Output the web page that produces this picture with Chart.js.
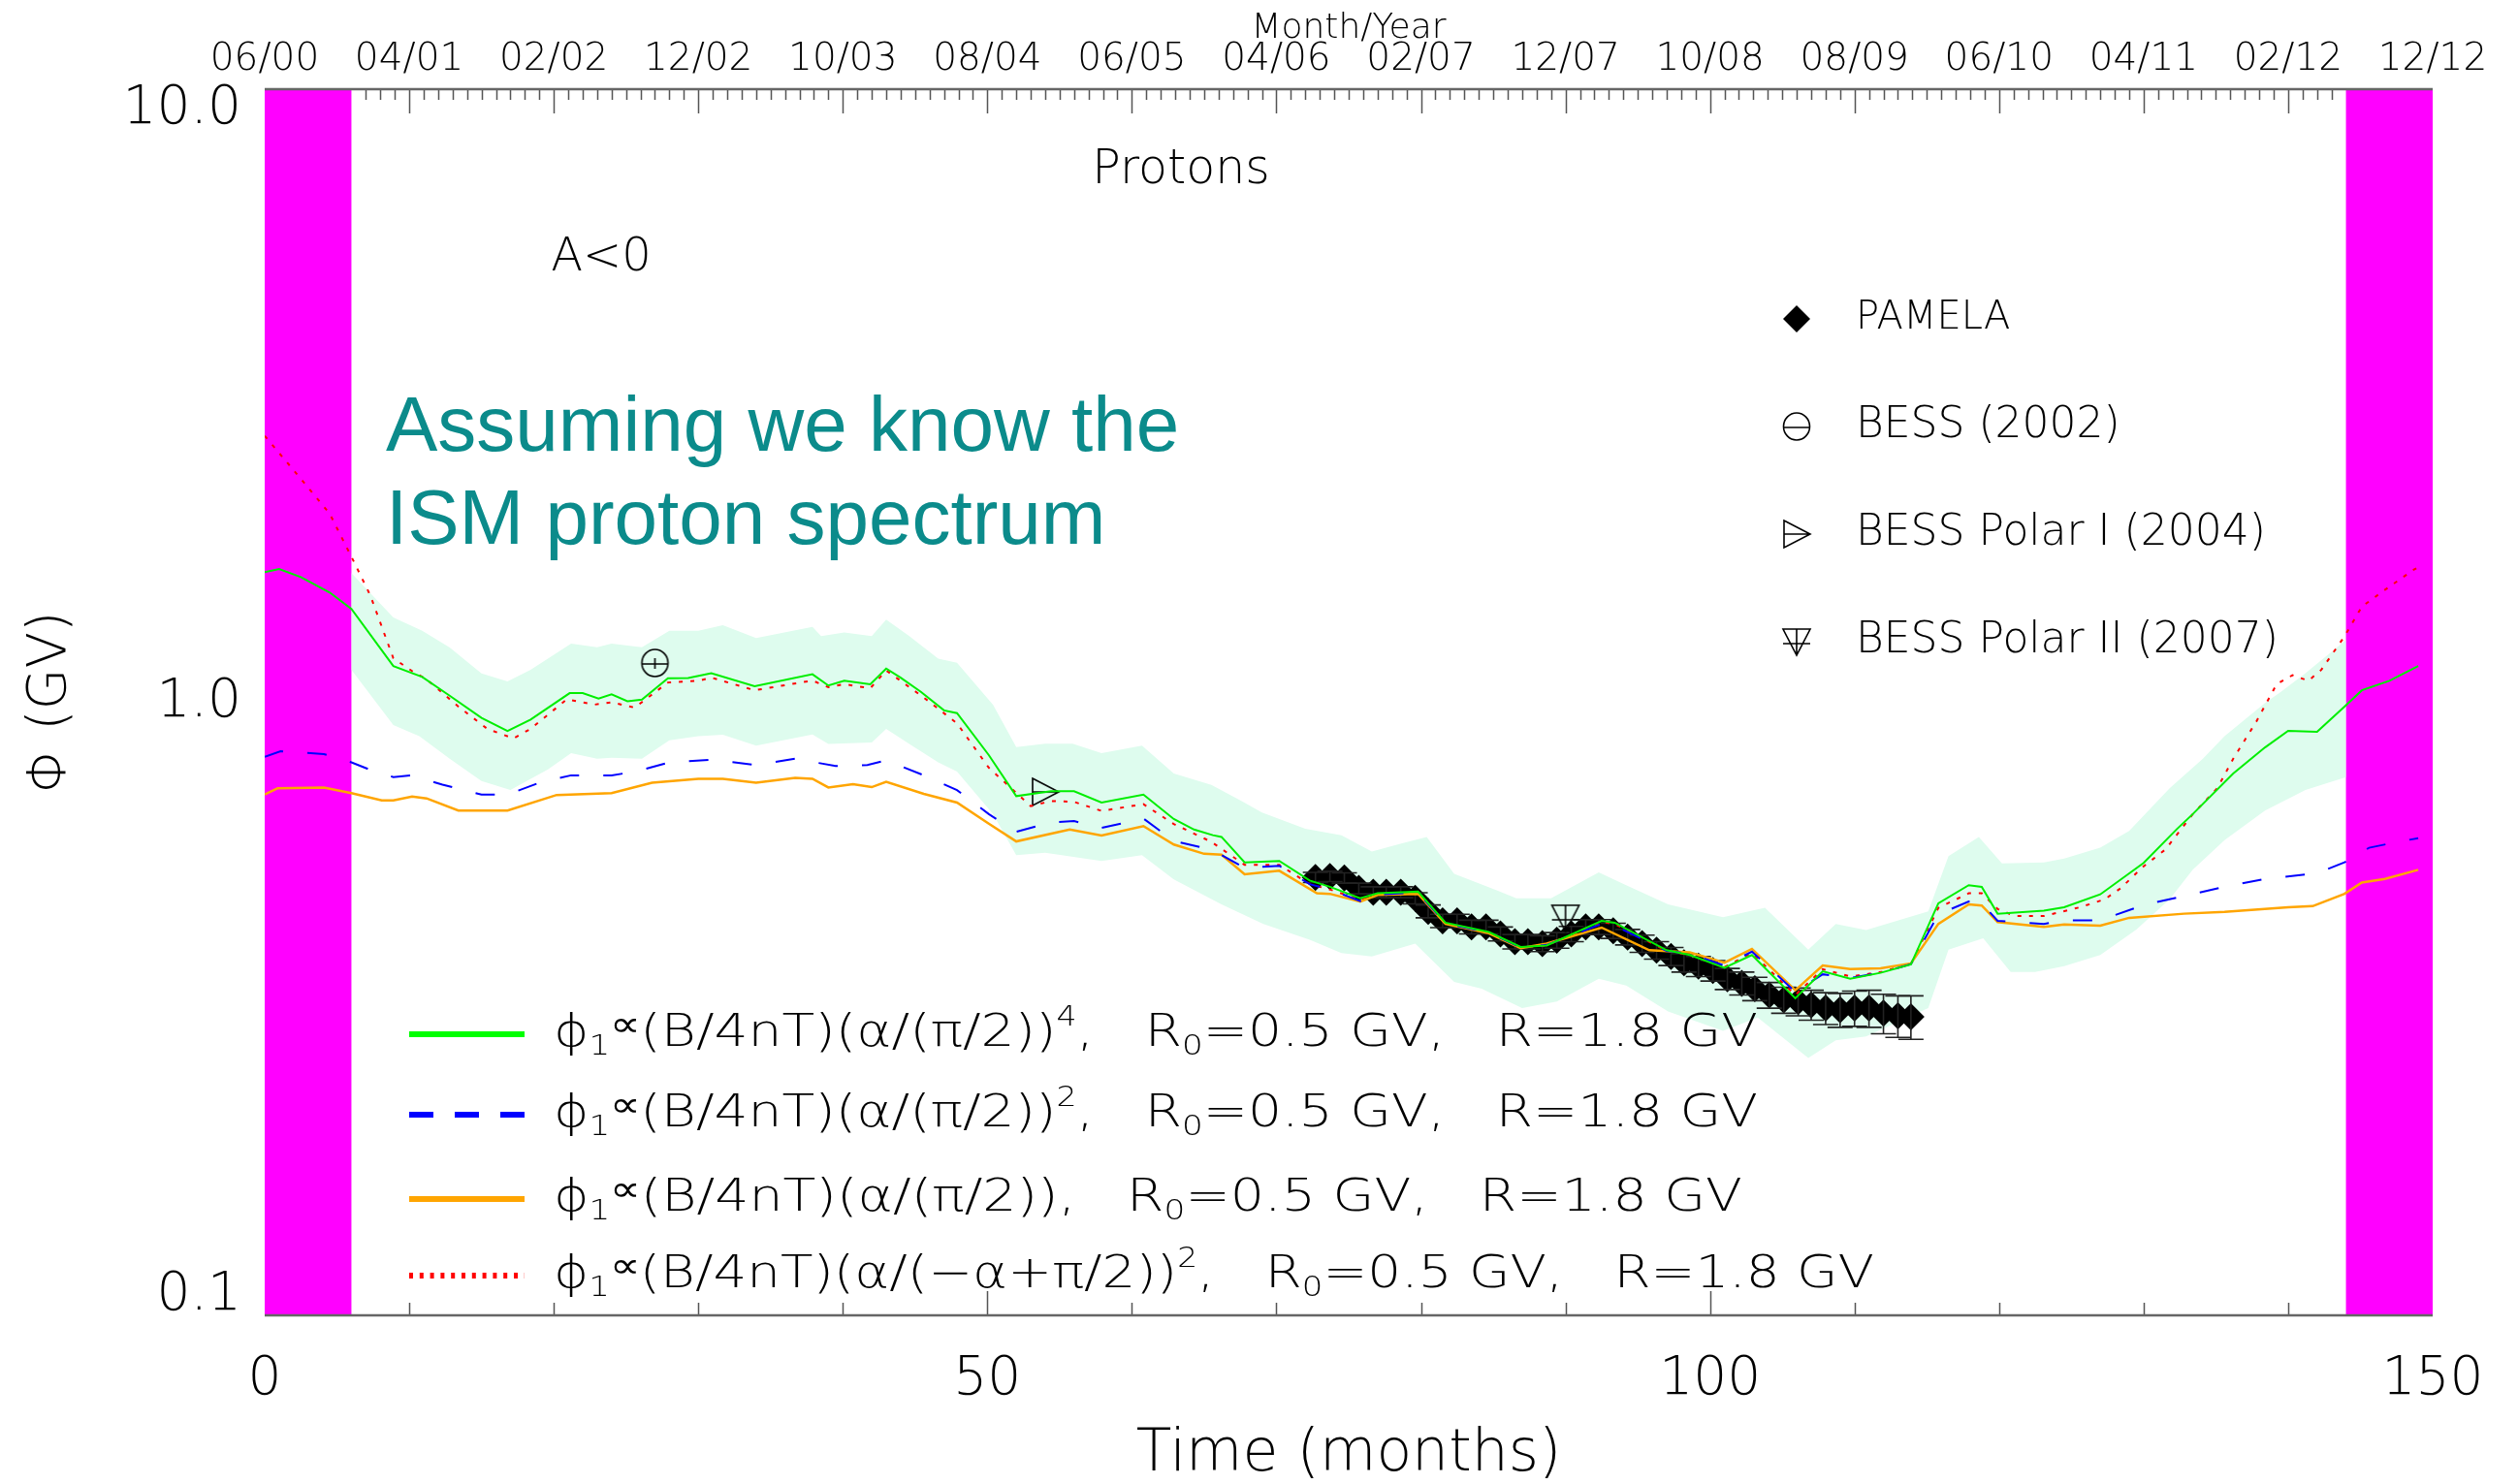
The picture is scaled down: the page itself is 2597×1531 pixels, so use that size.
<!DOCTYPE html>
<html><head><meta charset="utf-8">
<script src="https://cdn.jsdelivr.net/npm/chart.js@4.4.1/dist/chart.umd.min.js"></script>
<style>html,body{margin:0;padding:0;background:#fff;overflow:hidden}#wrap{width:2597px;height:1531px}</style>
</head><body><div id="wrap"><canvas id="c" width="2597" height="1531"></canvas></div>
<script>
// ---------------- DATA ----------------
const topLabels = ['06/00','04/01','02/02','12/02','10/03','08/04','06/05','04/06','02/07','12/07','10/08','08/09','06/10','04/11','02/12','12/12'];
const yTickValues = [0.1, 1, 10];
const magentaRanges = [[0, 6], [144, 150]];

const greenM = [0,1,2.5,4.5,6,8.9,10.9,12.8,15,16.8,18.4,21.1,22,23.1,24,25.1,26.1,27.9,29.3,30.9,33.9,37.9,39,40.1,41.9,43,44,45.4,47,47.9,50.1,52,54.4,56,57.9,60.8,62.9,64.3,65.6,66.2,67.8,70.2,72.3,73.7,75.8,77,79.8,81.7,84.7,86.9,88.7,92.5,93.4,97,98.6,101,102.9,105.9,107.8,109.7,111.8,113.9,115.8,117.9,118.8,119.9,123.1,124.5,127,130,132.3,133.4,136.2,138.4,140,142,143.9,145.1,147,149];
const greenV = [1.63,1.65,1.60,1.51,1.42,1.146,1.10,1.025,0.943,0.898,0.937,1.035,1.035,1.014,1.03,1.004,1.01,1.094,1.095,1.115,1.062,1.111,1.065,1.084,1.07,1.135,1.097,1.04,0.97,0.96,0.82,0.703,0.716,0.716,0.686,0.707,0.645,0.62,0.607,0.603,0.548,0.551,0.512,0.50,0.479,0.488,0.491,0.437,0.422,0.399,0.401,0.44,0.437,0.394,0.387,0.369,0.387,0.329,0.364,0.354,0.362,0.3735,0.47,0.503,0.50,0.452,0.457,0.463,0.486,0.547,0.621,0.657,0.765,0.844,0.898,0.895,0.984,1.046,1.084,1.146];

const blueM = [0,1.1,4.1,6,7.3,8.9,10.1,12.3,15,16.8,19,21.2,24,25.7,28,31,34,36.7,39.5,41.7,43,45.6,47.9,50.1,52,54.4,56,57.9,60.8,62.9,65.5,67.8,70.2,72.3,73.7,75.8,77,79.8,81.7,84.7,86.9,88.7,92.5,93.4,97,98.6,101,102.9,105.9,107.8,109.7,111.8,113.9,115.8,117.9,118.8,119.9,123.1,124.5,127,130,132.8,135.6,138.4,142,143.9,145.6,147.9,149];
const blueV = [0.815,0.832,0.823,0.798,0.776,0.755,0.76,0.734,0.707,0.707,0.739,0.76,0.76,0.771,0.798,0.806,0.79,0.809,0.787,0.79,0.804,0.76,0.719,0.657,0.615,0.637,0.64,0.624,0.646,0.594,0.575,0.537,0.541,0.505,0.495,0.474,0.486,0.489,0.436,0.421,0.398,0.402,0.435,0.432,0.393,0.389,0.372,0.392,0.337,0.36,0.355,0.362,0.374,0.451,0.473,0.47,0.44,0.435,0.441,0.441,0.467,0.483,0.50,0.515,0.526,0.548,0.579,0.594,0.60];

const orangeM = [0,0.9,4.1,6,8.1,8.9,10.2,11.2,13.4,16.8,20.2,24,26.8,30,31.7,34,36.7,37.9,39,40.7,42,43,45.6,47.9,50.1,52,55.7,57.9,60.8,62.9,65,66.2,67.8,70.2,72.8,73.7,75.8,77,79.8,81.7,84.7,86.9,88.7,92.5,95.8,98.6,101,102.9,105.9,107.8,109.7,111.8,113.9,115.8,117.9,118.8,119.9,123.1,124.5,127,129,132.8,135.6,140,141.7,143.9,145.1,146.7,149];
const orangeV = [0.707,0.724,0.726,0.711,0.692,0.692,0.702,0.697,0.666,0.666,0.706,0.711,0.739,0.75,0.75,0.739,0.753,0.75,0.726,0.735,0.727,0.742,0.709,0.686,0.634,0.593,0.62,0.606,0.628,0.586,0.566,0.564,0.524,0.531,0.488,0.487,0.473,0.485,0.487,0.435,0.42,0.397,0.404,0.429,0.394,0.391,0.376,0.396,0.339,0.372,0.367,0.368,0.375,0.435,0.468,0.466,0.438,0.43,0.434,0.432,0.445,0.452,0.455,0.463,0.465,0.487,0.508,0.515,0.533];

const redM = [0,2.8,4.5,6.2,7.3,8.9,10.3,11.2,13.4,15.4,17.2,18.4,20.9,22.8,24,25.6,27.9,30,30.9,33.9,37.9,39,40.1,41.9,43,45.6,47.9,50.1,53,54.4,56,57.9,60.8,62.9,65.5,67.8,70.2,72.3,73.7,75.8,77,79.8,81.7,84.7,86.9,88.7,92.5,93.4,97,98.6,101,102.9,105.9,107.8,109.7,111.8,113.9,115.8,117.9,118.8,119.9,121.1,123.1,125.6,127.3,128.4,130,131.5,133.4,135.1,136.2,137.8,139.2,140.3,141.4,142.3,143.9,145.1,146.5,148.7,149];
const redV = [2.72,2.27,2.03,1.69,1.495,1.18,1.12,1.09,0.984,0.905,0.873,0.905,1.011,0.991,1.0,0.98,1.077,1.084,1.097,1.046,1.085,1.058,1.07,1.054,1.127,1.018,0.924,0.782,0.677,0.69,0.688,0.665,0.682,0.633,0.592,0.543,0.543,0.505,0.495,0.476,0.486,0.49,0.436,0.421,0.398,0.401,0.438,0.435,0.393,0.387,0.37,0.39,0.333,0.367,0.357,0.363,0.374,0.462,0.488,0.488,0.46,0.448,0.448,0.463,0.477,0.497,0.54,0.575,0.657,0.724,0.809,0.93,1.07,1.107,1.084,1.13,1.281,1.432,1.514,1.646,1.66];

const bandUpM = [6,8.9,10.9,12.8,15,16.8,18.4,21.2,23,24,26.1,28,30,31.7,34,37.9,38.5,40.1,42,43,44.6,46.6,47.9,50.4,52,54,55.9,57.9,60.7,62.9,65.5,67.6,69,72,74.5,76.6,78.7,80.4,82.3,85.2,86.6,89,92.3,94.2,97.1,100.9,103.8,106.8,108.7,110.8,115.1,116.5,118.6,120.2,123.1,124.5,127,129,131.8,134.1,135.6,138.4,139.5,141.2,144];
const bandUpV = [1.625,1.375,1.308,1.228,1.114,1.081,1.13,1.246,1.23,1.246,1.23,1.308,1.308,1.336,1.273,1.327,1.282,1.30,1.282,1.364,1.282,1.178,1.16,0.99,0.845,0.856,0.856,0.826,0.85,0.765,0.733,0.69,0.661,0.622,0.607,0.571,0.589,0.603,0.525,0.494,0.479,0.479,0.528,0.503,0.468,0.446,0.462,0.395,0.435,0.425,0.456,0.561,0.603,0.546,0.548,0.556,0.579,0.617,0.724,0.809,0.88,0.997,1.04,1.115,1.264];
const bandLoM = [6,8.9,10.7,12.8,15,17,19.6,21.2,23,24,26.1,28,30,31.7,34,37.9,39,42,43,44.6,46.6,47.9,50.4,52,54,57.9,60.7,62.9,66.2,69.1,72.3,74.5,76.6,79.6,82.3,84.2,87,89.4,92.3,94.2,97.1,100.9,103.3,106.8,108.7,110.8,115.1,116.5,118.9,120.8,122.5,124.5,127,129.5,131.8,133.4,135.6,138.4,141.2,144];
const bandLoV = [1.13,0.918,0.88,0.809,0.744,0.719,0.777,0.826,0.809,0.812,0.809,0.867,0.88,0.885,0.85,0.886,0.855,0.86,0.905,0.855,0.798,0.771,0.657,0.563,0.568,0.551,0.563,0.514,0.468,0.435,0.41,0.39,0.385,0.404,0.35,0.341,0.317,0.325,0.354,0.345,0.313,0.291,0.306,0.263,0.281,0.285,0.317,0.395,0.412,0.363,0.363,0.371,0.387,0.426,0.477,0.533,0.596,0.666,0.719,0.755];

const pamelaM = [72.7,73.7,74.7,75.7,76.7,77.6,78.6,79.6,80.5,81.5,82.5,83.5,84.5,85.5,86.5,87.4,88.4,89.4,90.4,91.4,92.3,93.3,94.3,95.3,96.3,97.3,98.2,99.2,100.2,101.2,102.2,103.1,104.1,105.1,106.1,107,108,109,110,111,112,113,113.9];
const pamelaV = [0.518,0.52,0.517,0.497,0.49,0.49,0.49,0.479,0.456,0.44,0.44,0.43,0.43,0.419,0.407,0.407,0.404,0.409,0.419,0.43,0.43,0.424,0.414,0.404,0.394,0.385,0.376,0.371,0.365,0.354,0.348,0.341,0.333,0.327,0.325,0.321,0.317,0.315,0.317,0.317,0.311,0.308,0.307];
const pamelaErr = [0.010,0.010,0.010,0.010,0.010,0.010,0.010,0.010,0.011,0.011,0.011,0.011,0.011,0.011,0.011,0.011,0.012,0.012,0.012,0.012,0.012,0.012,0.012,0.013,0.013,0.013,0.013,0.014,0.014,0.014,0.015,0.015,0.016,0.016,0.017,0.018,0.019,0.020,0.021,0.022,0.023,0.024,0.025];

const bess02M = [27], bess02V = [1.159];
const polar1M = [54], polar1V = [0.714];
const polar2M = [90], polar2V = [0.445];

const legendLabels = ['PAMELA', 'BESS (2002)', 'BESS Polar I (2004)', 'BESS Polar II (2007)'];

// ---------------- HELPERS ----------------
const FAM = '"DejaVu Sans", sans-serif';
const WT = '200';
const fnt = (px) => `${WT} ${px}px ${FAM}`;
const pts = (ms, vs) => ms.map((m, i) => ({x: m, y: vs[i]}));

function makeSym(kind, withBar) {
  const c = document.createElement('canvas'); c.width = 40; c.height = 40;
  const g = c.getContext('2d'); g.strokeStyle = '#000'; g.lineWidth = 1.6;
  const cx = 20, cy = 20;
  g.beginPath();
  if (kind === 'circle') {
    g.ellipse(cx, cy, 13.5, 14, 0, 0, 2 * Math.PI);
    g.moveTo(cx - 14, cy + 1); g.lineTo(cx + 14, cy + 1);
    if (withBar) { g.moveTo(cx, cy - 5); g.lineTo(cx, cy + 6); }
  } else if (kind === 'right') {
    g.moveTo(cx - 13, cy - 14); g.lineTo(cx + 14, cy); g.lineTo(cx - 13, cy + 14); g.closePath();
    g.moveTo(cx - 13, cy); g.lineTo(cx + 14, cy);
  } else {
    g.moveTo(cx - 14, cy - 13); g.lineTo(cx + 14, cy - 13); g.lineTo(cx, cy + 14); g.closePath();
    g.moveTo(cx - 14, cy + 2); g.lineTo(cx + 14, cy + 2);
    g.moveTo(cx, cy - 13); g.lineTo(cx, cy + 14);
  }
  g.stroke();
  return c;
}
const symCircle = makeSym('circle', true), symCircleLeg = makeSym('circle', false);
const symRight = makeSym('right'), symDown = makeSym('down');

function drawFormula(ctx, x, baseY, parts, targetW, size) {
  const sizes = {n: 1, sub: 0.62, sup: 0.6, prop: 0.8};
  const dys = {n: 0, sub: 9, sup: -21, prop: -10};
  let tot = 0;
  parts.forEach(([t, k]) => { ctx.font = fnt(size * sizes[k]); tot += ctx.measureText(t).width; });
  const s = targetW / tot;
  ctx.save(); ctx.translate(x, baseY); ctx.scale(s, 1);
  ctx.textBaseline = 'alphabetic'; ctx.textAlign = 'left'; ctx.fillStyle = '#000';
  let cx = 0;
  parts.forEach(([t, k]) => { ctx.font = fnt(size * sizes[k]); ctx.fillText(t, cx, dys[k]); cx += ctx.measureText(t).width; });
  ctx.restore();
}

// ---------------- PLUGIN ----------------
const deco = {
  id: 'deco',
  beforeDatasetsDraw(chart) {
    const {ctx, chartArea: a, scales: {x}} = chart;
    ctx.save(); ctx.fillStyle = '#ff00ff';
    magentaRanges.forEach(([m0, m1]) => {
      const x0 = x.getPixelForValue(m0), x1 = x.getPixelForValue(m1);
      ctx.fillRect(x0, a.top, x1 - x0, a.bottom - a.top);
    });
    ctx.restore();
  },
  afterDatasetDraw(chart, args) {
    if (chart.data.datasets[args.index].label !== 'PAMELA') return;
    const {ctx, scales: {x, y}} = chart;
    ctx.save(); ctx.strokeStyle = '#222'; ctx.lineWidth = 1.6;
    pamelaM.forEach((m, i) => {
      const px = x.getPixelForValue(m);
      const y0 = y.getPixelForValue(pamelaV[i] - pamelaErr[i]);
      const y1 = y.getPixelForValue(pamelaV[i] + pamelaErr[i]);
      ctx.beginPath();
      ctx.moveTo(px, y0); ctx.lineTo(px, y1);
      ctx.moveTo(px - 13, y0); ctx.lineTo(px + 13, y0);
      ctx.moveTo(px - 13, y1); ctx.lineTo(px + 13, y1);
      ctx.stroke();
    });
    ctx.restore();
  },
  afterDatasetsDraw(chart) {
    const {ctx, chartArea: a, scales: {x}} = chart;
    ctx.save();
    ctx.strokeStyle = '#555'; ctx.lineWidth = 1.5;
    ctx.beginPath();
    for (let m = 7; m < 144; m++) {
      const px = Math.round(x.getPixelForValue(m)) + 0.5;
      const len = (m % 10 === 0) ? 25 : 11;
      ctx.moveTo(px, a.top); ctx.lineTo(px, a.top + len);
    }
    for (let m = 10; m < 144; m += 10) {
      const px = Math.round(x.getPixelForValue(m)) + 0.5;
      const len = (m % 50 === 0) ? 25 : 13;
      ctx.moveTo(px, a.bottom); ctx.lineTo(px, a.bottom - len);
    }
    ctx.stroke();
    ctx.strokeStyle = '#666'; ctx.lineWidth = 2.5;
    ctx.beginPath();
    ctx.moveTo(a.left, a.top); ctx.lineTo(a.right, a.top);
    ctx.moveTo(a.left, a.bottom); ctx.lineTo(a.right, a.bottom);
    ctx.stroke();
    ctx.restore();
  },
  afterDraw(chart) {
    const {ctx} = chart;
    ctx.save();
    ctx.fillStyle = '#000';
    ctx.textBaseline = 'middle'; ctx.textAlign = 'center';
    ctx.font = fnt(49); ctx.fillText('Protons', 1218, 176);
    ctx.font = fnt(48); ctx.fillText('A<0', 620, 267);
    // teal annotation
    ctx.fillStyle = '#0b8b8b'; ctx.textAlign = 'left'; ctx.textBaseline = 'alphabetic';
    ctx.font = '400 80px "Liberation Sans", Arial, sans-serif';
    ctx.fillText('Assuming we know the', 398, 465);
    ctx.fillText('ISM proton spectrum', 398, 561);
    // upper-right legend
    const legY = [329, 440, 551, 662], sx = 1853, tx = 1914;
    ctx.fillStyle = '#000';
    ctx.beginPath();
    ctx.moveTo(sx - 14, legY[0]); ctx.lineTo(sx, legY[0] - 14); ctx.lineTo(sx + 14, legY[0]); ctx.lineTo(sx, legY[0] + 14); ctx.closePath();
    ctx.fill();
    ctx.drawImage(symCircleLeg, sx - 20, legY[1] - 20);
    ctx.drawImage(symRight, sx - 20, legY[2] - 20);
    ctx.drawImage(symDown, sx - 20, legY[3] - 20);
    ctx.textBaseline = 'middle'; ctx.textAlign = 'left';
    legendLabels.forEach((t, i) => { ctx.font = fnt(i === 0 ? 40 : 44); ctx.fillText(t, tx, legY[i]); });
    // bottom legend
    const lines = [
      {c: '#00ff00', dash: [], y: 1067},
      {c: '#0000ff', dash: [25, 22], y: 1150},
      {c: '#ffa500', dash: [], y: 1237},
      {c: '#ff0000', dash: [4, 6.8], y: 1316}
    ];
    lines.forEach(l => {
      ctx.save(); ctx.strokeStyle = l.c; ctx.lineWidth = 6; ctx.setLineDash(l.dash); ctx.lineCap = 'butt';
      ctx.beginPath(); ctx.moveTo(422, l.y); ctx.lineTo(541, l.y); ctx.stroke(); ctx.restore();
    });
    const tail = [[',   R', 'n'], ['0', 'sub'], ['=0.5 GV,   R=1.8 GV', 'n']];
    drawFormula(ctx, 571, 1079, [['ϕ', 'n'], ['1', 'sub'], ['∝', 'prop'], ['(B/4nT)(α/(π/2))', 'n'], ['4', 'sup']].concat(tail), 1242, 46);
    drawFormula(ctx, 571, 1162, [['ϕ', 'n'], ['1', 'sub'], ['∝', 'prop'], ['(B/4nT)(α/(π/2))', 'n'], ['2', 'sup']].concat(tail), 1242, 46);
    drawFormula(ctx, 571, 1249, [['ϕ', 'n'], ['1', 'sub'], ['∝', 'prop'], ['(B/4nT)(α/(π/2))', 'n']].concat(tail), 1226, 46);
    drawFormula(ctx, 571, 1328, [['ϕ', 'n'], ['1', 'sub'], ['∝', 'prop'], ['(B/4nT)(α/(−α+π/2))', 'n'], ['2', 'sup']].concat(tail), 1362, 46);
    ctx.restore();
  }
};

// ---------------- CHART ----------------
const lineDs = (label, ms, vs, color, dash, w) => ({
  label, data: pts(ms, vs), borderColor: color, borderWidth: w, borderDash: dash,
  pointRadius: 0, fill: false, tension: 0, order: 0, xAxisID: 'x', yAxisID: 'y'
});

new Chart(document.getElementById('c'), {
  type: 'line',
  data: {
    datasets: [
      {label: 'bandUp', data: pts(bandUpM, bandUpV), borderWidth: 0, borderColor: 'rgba(0,0,0,0)', backgroundColor: '#defcee', pointRadius: 0, fill: '+1', tension: 0, order: 10},
      {label: 'bandLo', data: pts(bandLoM, bandLoV), borderWidth: 0, borderColor: 'rgba(0,0,0,0)', pointRadius: 0, fill: false, tension: 0, order: 10},
      {label: 'PAMELA', data: pts(pamelaM, pamelaV), showLine: false, pointStyle: 'rectRot', pointRadius: 14, backgroundColor: '#000', borderColor: '#000', borderWidth: 0, order: 5},
      lineDs('phi4', greenM, greenV, '#00ee00', [], 2),
      lineDs('phi2', blueM, blueV, '#0000ff', [20, 25], 2),
      lineDs('phi1', orangeM, orangeV, '#ffa500', [], 2.5),
      lineDs('phiRed', redM, redV, '#ff0000', [4, 8], 2),
      {label: 'BESS (2002)', data: pts(bess02M, bess02V), showLine: false, pointStyle: symCircle, pointRadius: 14, order: 0},
      {label: 'BESS Polar I (2004)', data: pts(polar1M, polar1V), showLine: false, pointStyle: symRight, pointRadius: 14, order: 0},
      {label: 'BESS Polar II (2007)', data: pts(polar2M, polar2V), showLine: false, pointStyle: symDown, pointRadius: 14, order: 0}
    ]
  },
  options: {
    responsive: false, animation: false, devicePixelRatio: 1,
    layout: {padding: {left: 0, right: 88, top: 0, bottom: 0}},
    plugins: {legend: {display: false}, tooltip: {enabled: false}, title: {display: false}},
    scales: {
      x: {
        type: 'linear', position: 'bottom', min: 0, max: 150,
        grid: {display: false, drawTicks: false}, border: {display: false},
        ticks: {stepSize: 50, autoSkip: false, maxRotation: 0, padding: 34, color: '#000', font: {family: FAM, size: 55, weight: WT}},
        title: {display: true, text: 'Time (months)', color: '#000', padding: {top: 0, bottom: 0}, font: {family: FAM, size: 60, weight: WT, lineHeight: 1}},
        afterFit(s) { s.height = 174; }
      },
      x2: {
        type: 'linear', position: 'top', min: 0, max: 150,
        grid: {display: false, drawTicks: false}, border: {display: false},
        ticks: {stepSize: 10, autoSkip: false, maxRotation: 0, padding: 7, color: '#000', font: {family: FAM, size: 39, weight: WT},
          callback: (v) => (v % 10 === 0 ? topLabels[Math.round(v / 10)] : '')},
        title: {display: true, text: 'Month/Year', color: '#000', padding: {top: 12, bottom: 0}, font: {family: FAM, size: 36, weight: WT, lineHeight: 1}},
        afterFit(s) { s.height = 92; }
      },
      y: {
        type: 'logarithmic', position: 'left', min: 0.1, max: 10,
        grid: {display: false, drawTicks: false}, border: {display: false},
        afterBuildTicks(s) { s.ticks = yTickValues.map(v => ({value: v, major: true})); },
        ticks: {padding: 24, color: '#000', autoSkip: false, font: {family: FAM, size: 55, weight: WT, lineHeight: 0.75},
          callback: (v) => { const t = Number(v).toFixed(1); if (v >= 10) return ['', t]; if (v <= 0.1) return [t, '']; return t; }},
        title: {display: true, text: 'Φ (GV)', color: '#000', padding: {top: 25, bottom: 0}, font: {family: FAM, size: 55, weight: WT, lineHeight: 1}},
        afterFit(s) { s.width = 273; }
      }
    }
  },
  plugins: [deco]
});
</script></body></html>
